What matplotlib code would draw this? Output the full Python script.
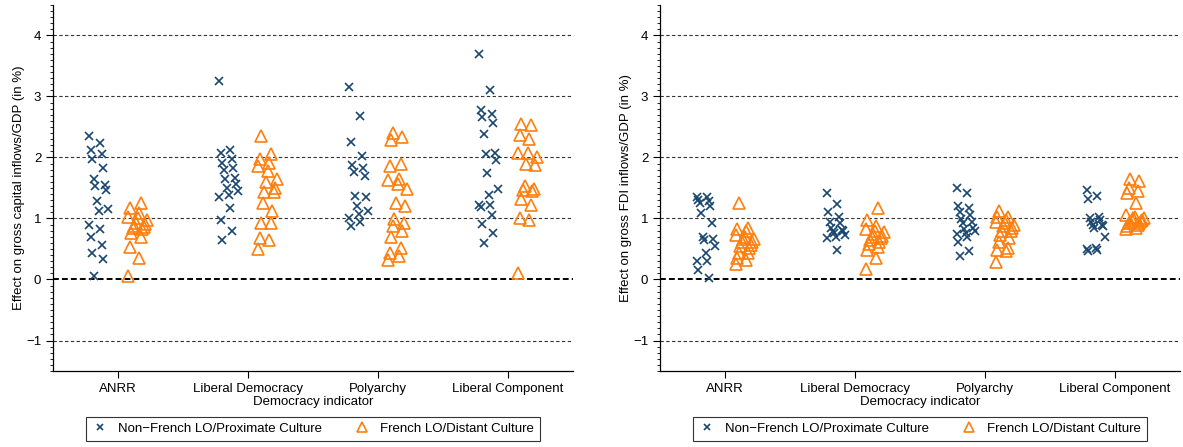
import numpy as np
import matplotlib
matplotlib.use("Agg")
import matplotlib.pyplot as plt
from matplotlib.ticker import MultipleLocator

plt.rcParams["font.family"] = ["Liberation Sans", "DejaVu Sans"]
plt.rcParams["font.size"] = 9.5

# Democracy indicators on the x axis
indicators = ["ANRR", "Liberal Democracy", "Polyarchy", "Liberal Component"]
group_labels = ["Non\u2212French LO/Proximate Culture", "French LO/Distant Culture"]

# Effects on gross capital inflows/GDP (in %), one list per indicator
capital_nonfrench = [
    [2.35, 2.24, 2.13, 2.05, 1.98, 1.82, 1.65, 1.55, 1.54, 1.46, 1.28, 1.16, 1.12, 0.90, 0.83, 0.69, 0.57, 0.43, 0.33, 0.05],
    [3.26, 2.12, 2.08, 1.98, 1.91, 1.83, 1.80, 1.67, 1.65, 1.57, 1.50, 1.45, 1.39, 1.36, 1.17, 0.98, 0.80, 0.64],
    [3.15, 2.68, 2.25, 2.02, 1.87, 1.82, 1.76, 1.70, 1.37, 1.36, 1.21, 1.12, 1.08, 1.01, 0.94, 0.87],
    [3.70, 3.11, 2.78, 2.71, 2.66, 2.56, 2.39, 2.08, 2.05, 1.96, 1.75, 1.49, 1.38, 1.22, 1.22, 1.18, 1.05, 0.91, 0.76, 0.60],
]
capital_french = [
    [1.25, 1.17, 1.09, 1.03, 1.00, 0.97, 0.93, 0.91, 0.88, 0.86, 0.85, 0.83, 0.77, 0.70, 0.54, 0.35, 0.05],
    [2.35, 2.06, 1.97, 1.91, 1.86, 1.78, 1.65, 1.59, 1.50, 1.44, 1.43, 1.26, 1.12, 0.93, 0.93, 0.68, 0.64, 0.50],
    [2.40, 2.34, 2.29, 1.90, 1.86, 1.64, 1.63, 1.56, 1.49, 1.25, 1.21, 0.99, 0.92, 0.88, 0.80, 0.69, 0.51, 0.44, 0.38, 0.32],
    [2.55, 2.53, 2.36, 2.31, 2.08, 2.08, 2.01, 1.90, 1.87, 1.53, 1.48, 1.47, 1.45, 1.32, 1.22, 1.01, 0.98, 0.11],
]

# Effects on gross FDI inflows/GDP (in %)
fdi_nonfrench = [
    [1.35, 1.35, 1.30, 1.28, 1.25, 1.20, 1.09, 0.92, 0.70, 0.66, 0.65, 0.55, 0.43, 0.30, 0.30, 0.15, 0.02],
    [1.42, 1.23, 1.10, 1.02, 0.95, 0.92, 0.84, 0.81, 0.79, 0.79, 0.77, 0.73, 0.70, 0.68, 0.49],
    [1.50, 1.41, 1.21, 1.17, 1.10, 1.06, 0.99, 0.95, 0.93, 0.84, 0.83, 0.80, 0.77, 0.75, 0.70, 0.62, 0.47, 0.38],
    [1.47, 1.37, 1.32, 1.03, 1.01, 0.98, 0.95, 0.90, 0.90, 0.87, 0.84, 0.69, 0.52, 0.50, 0.48, 0.47],
]
fdi_french = [
    [1.26, 0.85, 0.83, 0.79, 0.73, 0.70, 0.66, 0.66, 0.62, 0.62, 0.57, 0.55, 0.51, 0.43, 0.43, 0.35, 0.32, 0.26],
    [1.17, 0.97, 0.88, 0.83, 0.80, 0.78, 0.75, 0.72, 0.70, 0.68, 0.65, 0.62, 0.58, 0.53, 0.48, 0.35, 0.18],
    [1.12, 1.03, 1.02, 0.98, 0.95, 0.92, 0.90, 0.87, 0.84, 0.79, 0.79, 0.73, 0.68, 0.62, 0.51, 0.49, 0.46, 0.29],
    [1.64, 1.61, 1.50, 1.45, 1.42, 1.26, 1.05, 1.02, 1.00, 1.00, 0.98, 0.97, 0.96, 0.95, 0.93, 0.92, 0.90, 0.88, 0.85, 0.82],
]

navy = "#1a476f"
orange = "#ff7f0e"
group_shift = 0.15   # distance of each group from the category tick
spread = 0.07        # half width of the horizontal jitter


def jitter(n):
    # fixed, repeatable scatter pattern in [-1, 1]
    k = np.arange(n)
    return ((k * 7) % 13) / 6.0 - 1.0


fig = plt.figure(figsize=(11.83, 4.47), dpi=100)
ax1 = fig.add_axes([0.0448, 0.170, 0.4396, 0.819])
ax2 = fig.add_axes([0.558, 0.170, 0.4396, 0.819])

panels = [
    (ax1, capital_nonfrench, capital_french, "Effect on gross capital inflows/GDP (in %)"),
    (ax2, fdi_nonfrench, fdi_french, "Effect on gross FDI inflows/GDP (in %)"),
]

for ax, nonfr, fr, ylab in panels:
    for y in [-1, 1, 2, 3, 4]:
        ax.axhline(y, color="#333333", lw=0.8, ls=(0, (3, 2.2)), zorder=1)
    ax.axhline(0, color="black", lw=1.4, ls=(0, (3, 1.6)), zorder=1)

    for i, vals in enumerate(nonfr):
        xs = i + 1 - group_shift + spread * jitter(len(vals))
        ax.plot(xs, vals, ls="none", marker="x", ms=5.5, mew=1.2, color=navy, zorder=3,
                label=group_labels[0] if i == 0 else None)
    for i, vals in enumerate(fr):
        xs = i + 1 + group_shift + spread * jitter(len(vals))[::-1]
        ax.plot(xs, vals, ls="none", marker="^", ms=9, mew=1.2, mfc="none", mec=orange, zorder=3,
                label=group_labels[1] if i == 0 else None)

    ax.set_xlim(0.5, 4.5)
    ax.set_ylim(-1.5, 4.5)
    ax.set_xticks(range(1, 5))
    ax.set_xticklabels(indicators)
    ax.set_yticks(range(-1, 5))
    ax.yaxis.set_minor_locator(MultipleLocator(0.1))
    ax.tick_params(axis="both", which="major", length=5, width=0.8, direction="out", labelsize=9.5)
    ax.tick_params(axis="y", which="minor", length=2.5, width=0.6)
    for side in ["top", "right"]:
        ax.spines[side].set_visible(False)
    for side in ["left", "bottom"]:
        ax.spines[side].set_linewidth(0.9)
    ax.set_xlabel("Democracy indicator", fontsize=9.5, labelpad=1)
    ax.set_ylabel(ylab, fontsize=9.5, labelpad=1)

    leg = ax.legend(loc="center", bbox_to_anchor=(0.5, -0.158), ncol=2, frameon=True,
                    fancybox=False, edgecolor="black", fontsize=9.5, handletextpad=0.8,
                    columnspacing=2.4, borderpad=0.45, handlelength=1.2, markerscale=0.8)
    leg.get_frame().set_linewidth(0.8)

fig.savefig("out.png", dpi=100)
